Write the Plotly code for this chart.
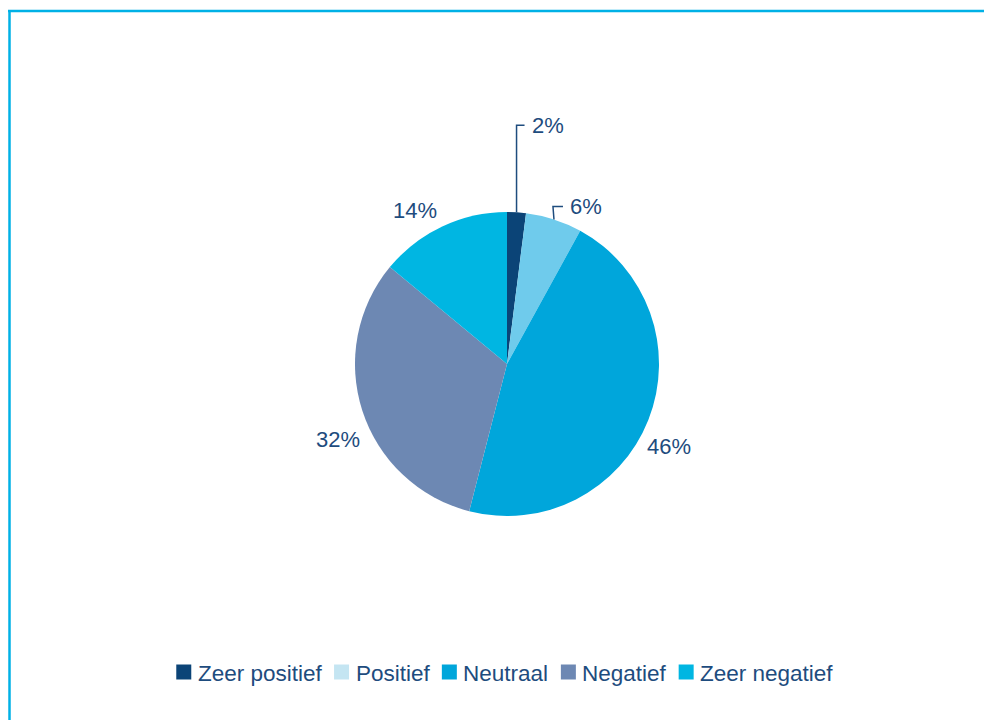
import math
import plotly.graph_objects as go

categories = ["Zeer positief", "Positief", "Neutraal", "Negatief", "Zeer negatief"]
values = [2, 6, 46, 32, 14]
slice_colors = ["#0b4477", "#6fcbec", "#00a6db", "#6d88b3", "#00b6e2"]
legend_colors = ["#0b4477", "#c4e5f2", "#00a6db", "#6d88b3", "#00b6e2"]

W, H = 984, 720
CX, CY, R = 507, 364, 152
TEXT = "#1e4c7e"
FONT = "Liberation Sans, Arial, sans-serif"
LABEL_SIZE = 22
LEGEND_SIZE = 22.5

def px2paper(x, y):
    return x / W, 1 - y / H

fig = go.Figure()
fig.add_trace(go.Pie(
    labels=categories, values=values, sort=False, direction="clockwise",
    rotation=0,
    marker=dict(colors=slice_colors, line=dict(width=0)),
    textinfo="none", showlegend=False, hoverinfo="label+percent",
    domain=dict(x=[(CX - R) / W, (CX + R) / W], y=[(H - CY - R) / H, (H - CY + R) / H]),
))

total = sum(values)
cum = 0
mids = []
for v in values:
    mids.append((cum + v / 2) / total)
    cum += v

shapes = []
annotations = []

# label placement styles: ("elbow", dx, dy, hlen) or ("free", dx, dy) relative to slice mid-arc point
label_style = [("elbow", 0, -87, 8), ("elbow", -1, -13, 10), ("free", 21, 27), ("free", -24, 29), ("free", -27, -16)]
for i, st in enumerate(label_style):
    a = 2 * math.pi * mids[i]
    x0 = CX + R * math.sin(a)
    y0 = CY - R * math.cos(a)
    pct = round(values[i] / total * 100)
    font = dict(size=LABEL_SIZE, color=TEXT, family=FONT)
    if st[0] == "elbow":
        _, dx, dy, hl = st
        x1, y1 = x0 + dx, y0 + dy
        x2 = x1 + hl
        p0 = px2paper(x0, y0); p1 = px2paper(x1, y1); p2 = px2paper(x2, y1)
        shapes.append(dict(type="path", xref="paper", yref="paper",
                           path=f"M {p0[0]} {p0[1]} L {p1[0]} {p1[1]} L {p2[0]} {p2[1]}",
                           line=dict(color=TEXT, width=1.5)))
        lx, ly = px2paper(x2 + 5, y1)
        annotations.append(dict(x=lx, y=ly, xref="paper", yref="paper", text=f"{pct}%",
                                showarrow=False, xanchor="left", yanchor="middle", font=font))
    else:
        _, dx, dy = st
        lx, ly = px2paper(x0 + dx, y0 + dy)
        annotations.append(dict(x=lx, y=ly, xref="paper", yref="paper", text=f"{pct}%",
                                showarrow=False, xanchor="center", yanchor="middle", font=font))

# custom legend (squares + text), widths from Arial metrics
ARIAL = {"Z": 611, "e": 556, "r": 333, " ": 278, "p": 556, "o": 556, "s": 500, "i": 222,
         "t": 278, "f": 278, "P": 667, "N": 722, "u": 556, "a": 556, "l": 222, "g": 556, "n": 556}
def text_w(s, size):
    return sum(ARIAL.get(c, 556) for c in s) / 1000 * size

SQ, SQ_GAP, ITEM_GAP = 15, 5.5, 13.5
LEG_Y = 672
widths = [SQ + SQ_GAP + text_w(c, LEGEND_SIZE) for c in categories]
total_w = sum(widths) + ITEM_GAP * (len(categories) - 1)
x = 504 - total_w / 2
for name, col, w in zip(categories, legend_colors, widths):
    a0 = px2paper(x, LEG_Y - SQ / 2); a1 = px2paper(x + SQ, LEG_Y + SQ / 2)
    shapes.append(dict(type="rect", xref="paper", yref="paper", x0=a0[0], x1=a1[0], y0=a1[1], y1=a0[1],
                       fillcolor=col, line=dict(width=0)))
    tx, ty = px2paper(x + SQ + SQ_GAP - 1, LEG_Y + 1)
    annotations.append(dict(x=tx, y=ty, xref="paper", yref="paper", text=name, showarrow=False,
                            xanchor="left", yanchor="middle",
                            font=dict(size=LEGEND_SIZE, color=TEXT, family=FONT)))
    x += w + ITEM_GAP

# frame lines (top and left)
BORDER = "#00b1e6"
shapes.append(dict(type="line", xref="paper", yref="paper", x0=8 / W, x1=1, y0=1 - 11 / H, y1=1 - 11 / H,
                   line=dict(color=BORDER, width=2.5)))
shapes.append(dict(type="line", xref="paper", yref="paper", x0=9.5 / W, x1=9.5 / W, y0=0, y1=1 - 10 / H,
                   line=dict(color=BORDER, width=2.5)))

fig.update_layout(
    width=W, height=H,
    margin=dict(l=0, r=0, t=0, b=0),
    paper_bgcolor="white", plot_bgcolor="white",
    shapes=shapes, annotations=annotations,
    showlegend=False,
    font=dict(family=FONT, color=TEXT),
)

fig.write_html("out.html", config={"displayModeBar": False},
               post_script="document.body.style.margin='0';document.documentElement.style.overflow='hidden';")
